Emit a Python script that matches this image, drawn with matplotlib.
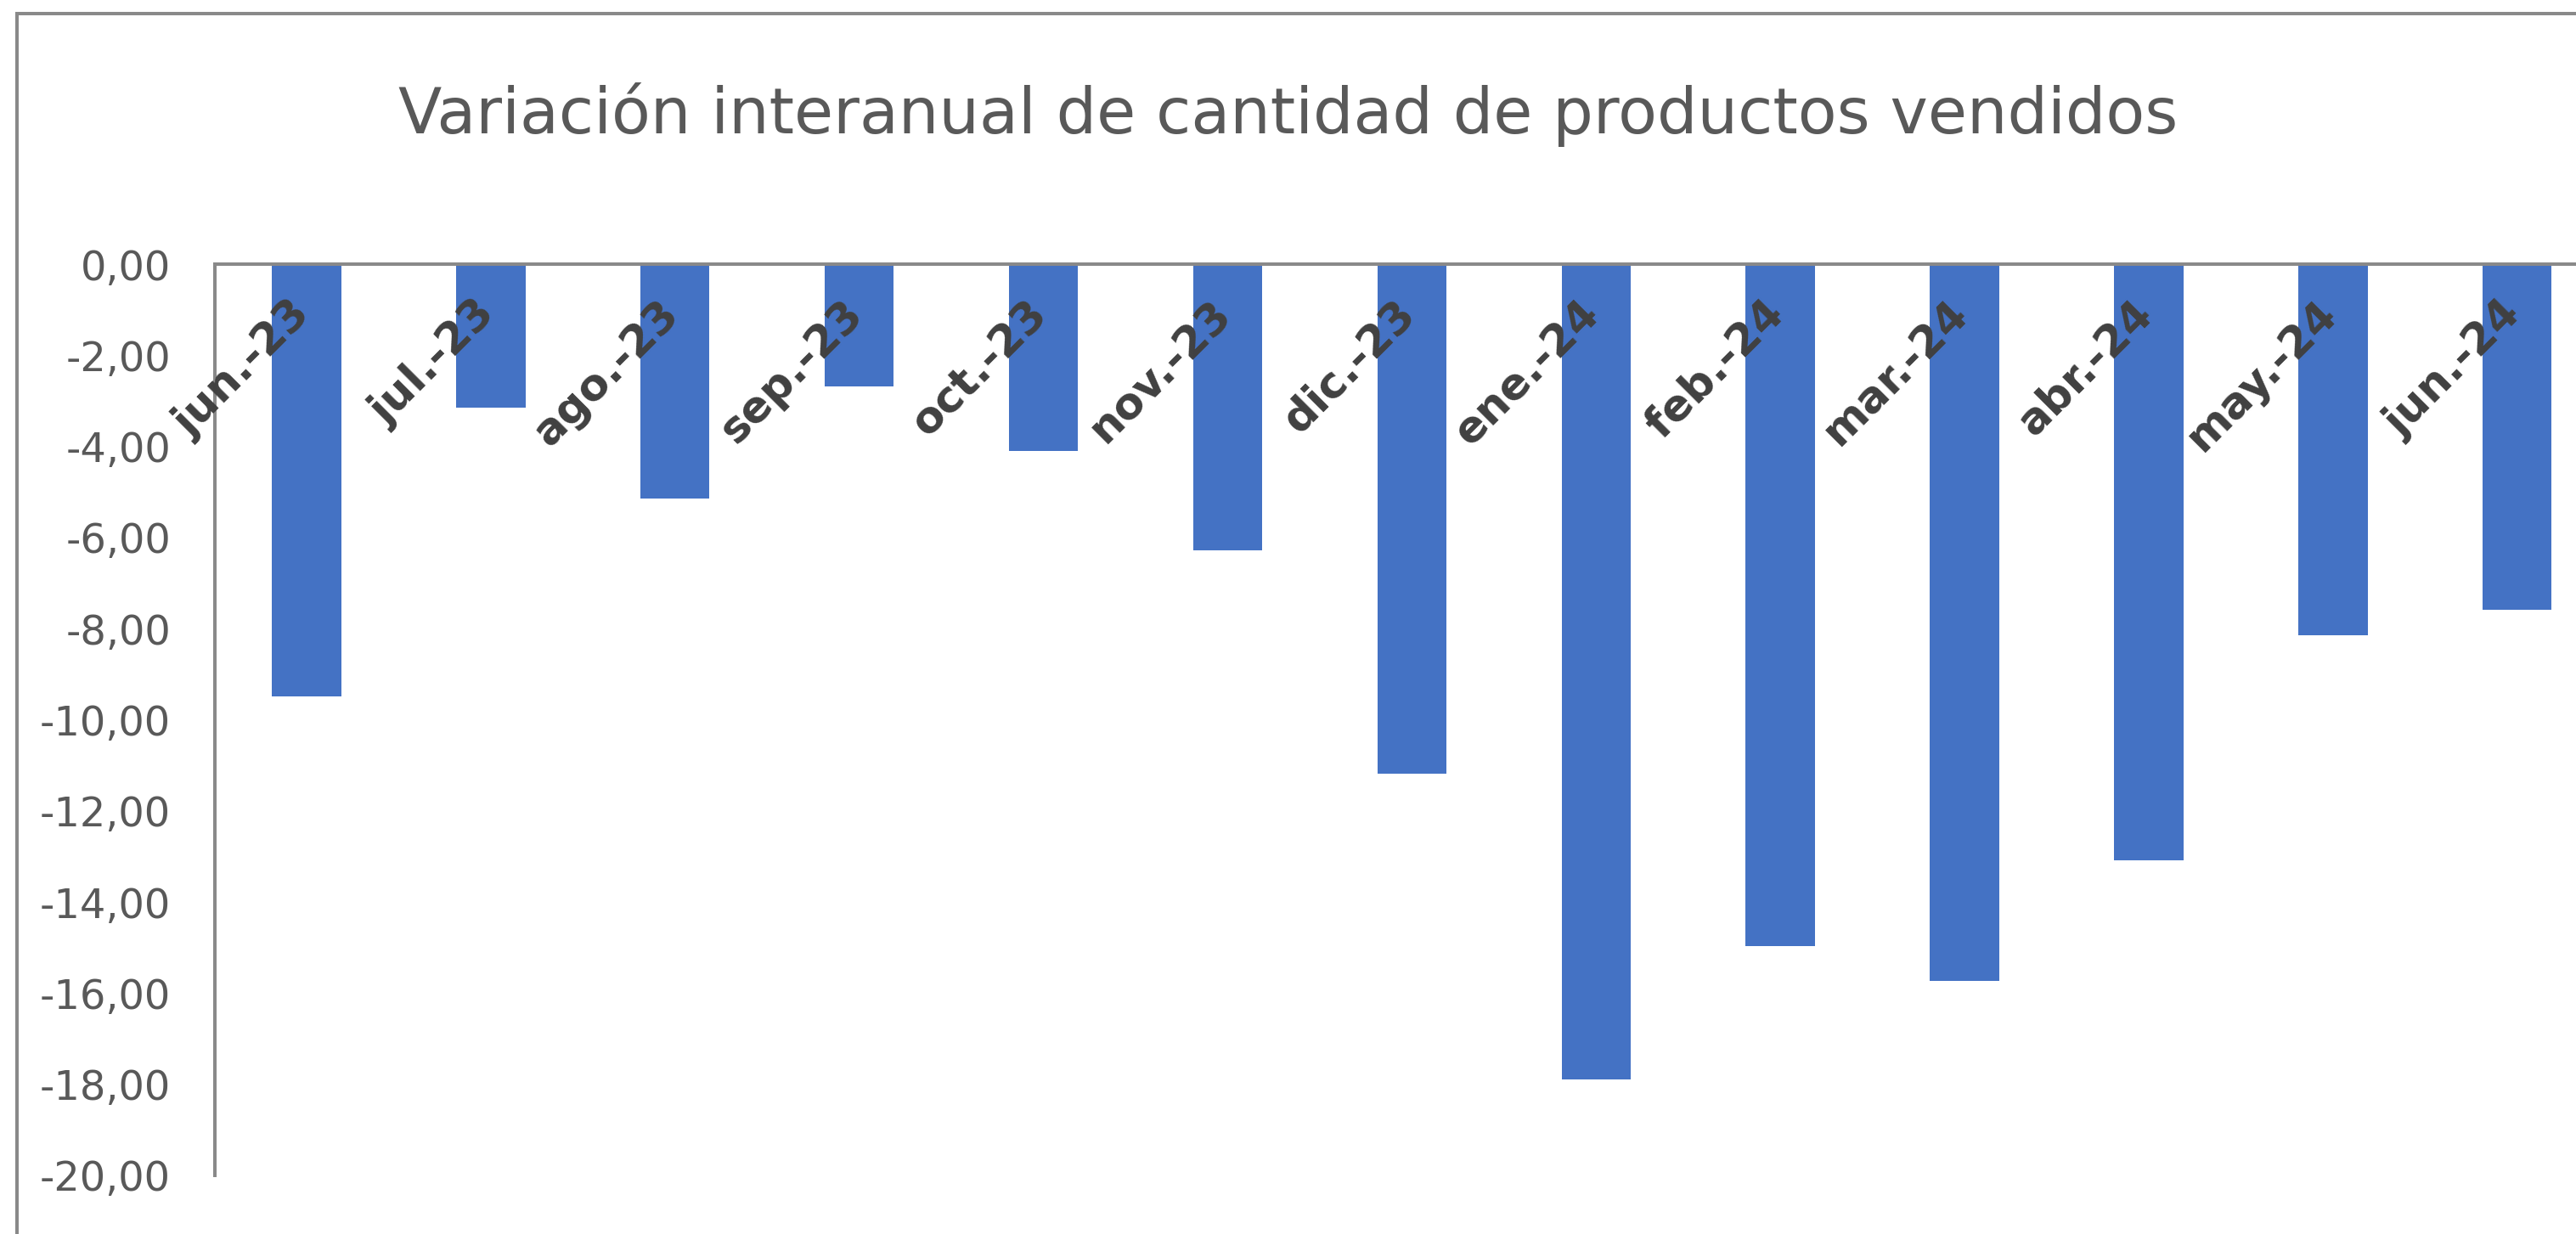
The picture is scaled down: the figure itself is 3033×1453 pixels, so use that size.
import numpy as np
import matplotlib
matplotlib.use("Agg")
import matplotlib.pyplot as plt
from matplotlib.patches import Rectangle
from matplotlib.ticker import FuncFormatter, FixedLocator
from matplotlib.transforms import ScaledTranslation

# ==============================
# Data
# ==============================
title = "Variación interanual de cantidad de productos vendidos"
months = ["jun.-23", "jul.-23", "ago.-23", "sep.-23", "oct.-23", "nov.-23", "dic.-23",
          "ene.-24", "feb.-24", "mar.-24", "abr.-24", "may.-24", "jun.-24"]
variation = [-9.49, -3.15, -5.14, -2.68, -4.10, -6.28, -11.18,
             -17.89, -14.97, -15.73, -13.08, -8.15, -7.59]
y_ticks = [0, -2, -4, -6, -8, -10, -12, -14, -16, -18, -20]

# ==============================
# Style
# ==============================
BAR_COLOR = "#4472C4"
AXIS_COLOR = "#898989"
TEXT_COLOR = "#595959"
LABEL_COLOR = "#404040"
DPI = 100
W, H = 3033, 1453

fig = plt.figure(figsize=(W / DPI, H / DPI), dpi=DPI)
fig.patch.set_facecolor("white")

# axes box in pixel terms (right side runs off the picture, as in the source)
left_px, right_px = 252.5, 252.5 + 13 * 216.9
top_px, bottom_px = 311, 1384
ax = fig.add_axes([left_px / W, 1 - bottom_px / H,
                   (right_px - left_px) / W, (bottom_px - top_px) / H])

x = np.arange(len(months))
ax.bar(x, variation, width=0.375, color=BAR_COLOR, zorder=2)

ax.set_xlim(-0.5, len(months) - 0.5)
ax.set_ylim(-20, 0)

# x axis line sits at zero (top of the plot)
ax.spines["bottom"].set_position(("data", 0))
ax.spines["top"].set_visible(False)
ax.spines["right"].set_visible(False)
for s in ("bottom", "left"):
    ax.spines[s].set_color(AXIS_COLOR)
    ax.spines[s].set_linewidth(2.9)
    ax.spines[s].set_zorder(3)

ax.yaxis.set_major_locator(FixedLocator(y_ticks))
ax.yaxis.set_major_formatter(FuncFormatter(lambda v, p: f"{v:.2f}".replace(".", ",")))
ax.tick_params(axis="y", length=0, pad=37, labelsize=34.5, labelcolor=TEXT_COLOR)

ax.set_xticks(x)
ax.set_xticklabels(months, rotation=45, ha="right", va="baseline",
                   rotation_mode="anchor", fontsize=37, fontweight="bold",
                   color=LABEL_COLOR)
ax.tick_params(axis="x", length=0, pad=44)
shift = ScaledTranslation(7 / DPI, 0, fig.dpi_scale_trans)
for lab in ax.get_xticklabels():
    lab.set_transform(lab.get_transform() + shift)
# month labels are drawn over the bars
ax.xaxis.set_zorder(5)

fig.text(0.5, 1 - 157 / H, title, ha="center", va="baseline",
         fontsize=54, color=TEXT_COLOR)

# chart area border (cropped on right and bottom)
fig.add_artist(Rectangle((20 / W, -0.1), 1.2, (H - 16) / H + 0.1,
                         transform=fig.transFigure, fill=False,
                         edgecolor=AXIS_COLOR, linewidth=2.9))

fig.savefig("out.png", dpi=DPI, facecolor="white")
